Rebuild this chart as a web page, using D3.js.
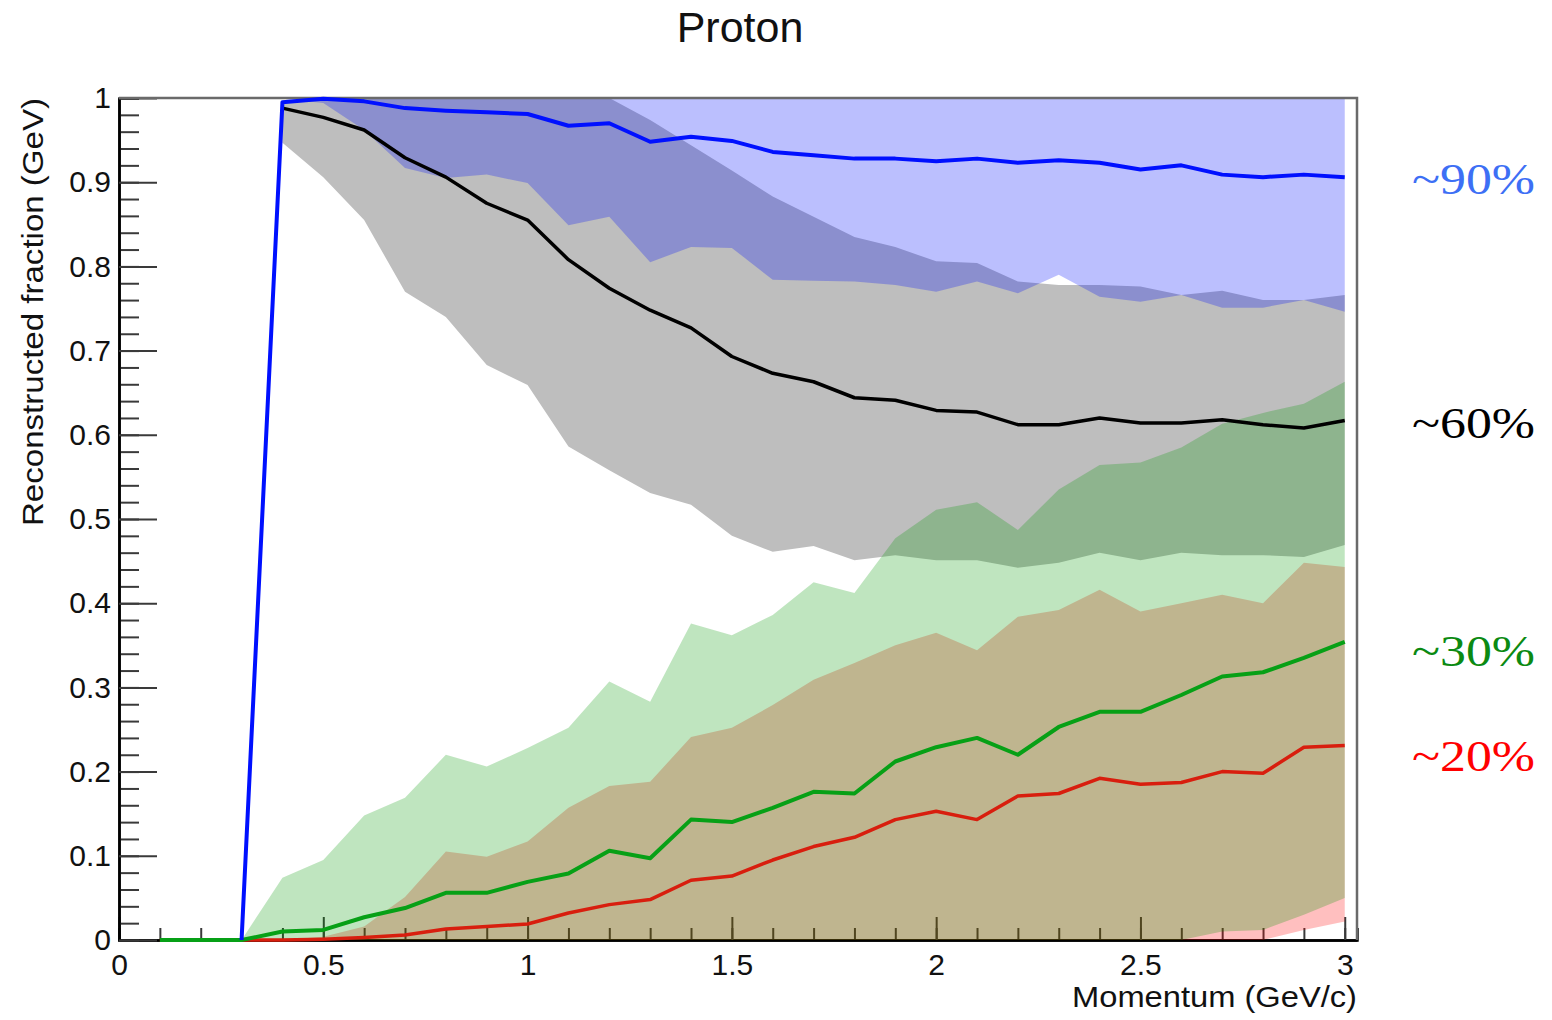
<!DOCTYPE html>
<html>
<head>
<meta charset="utf-8">
<script src="https://cdn.jsdelivr.net/npm/d3@7/dist/d3.min.js"></script>
<style>
  body { margin: 0; background: #fff; }
  svg { display: block; }
  .tick text { font-family: "Liberation Sans", Arial, sans-serif; fill: #111; }
</style>
</head>
<body>
<svg id="chart"></svg>
<script>
// momentum bins (GeV/c)
const momentum = [0.1, 0.2, 0.3, 0.4, 0.5, 0.6, 0.7, 0.8, 0.9, 1.0,
  1.1, 1.2, 1.3, 1.4, 1.5, 1.6, 1.7, 1.8, 1.9, 2.0,
  2.1, 2.2, 2.3, 2.4, 2.5, 2.6, 2.7, 2.8, 2.9, 3.0];

// mean reconstructed fraction per curve
const blueMean = [null, null, 0, 0.995, 0.999, 0.996, 0.988, 0.985, 0.983, 0.981,
  0.967, 0.970, 0.948, 0.954, 0.949, 0.936, 0.932, 0.928, 0.928, 0.925,
  0.928, 0.923, 0.926, 0.923, 0.915, 0.920, 0.909, 0.906, 0.909, 0.906];
const blackMean = [null, null, null, 0.988, 0.977, 0.962, 0.929, 0.906, 0.875, 0.855,
  0.808, 0.774, 0.748, 0.727, 0.693, 0.673, 0.663, 0.644, 0.641, 0.629,
  0.627, 0.612, 0.612, 0.620, 0.614, 0.614, 0.618, 0.612, 0.608, 0.617];
const greenMean = [0, 0, 0, 0.010, 0.012, 0.027, 0.038, 0.056, 0.056, 0.069,
  0.079, 0.106, 0.097, 0.143, 0.140, 0.157, 0.176, 0.174, 0.212, 0.229,
  0.240, 0.220, 0.253, 0.271, 0.271, 0.291, 0.313, 0.318, 0.335, 0.354];
const redMean = [0, 0, 0, 0, 0.001, 0.003, 0.006, 0.013, 0.016, 0.019,
  0.032, 0.042, 0.048, 0.071, 0.076, 0.095, 0.111, 0.122, 0.143, 0.153,
  0.143, 0.171, 0.174, 0.192, 0.185, 0.187, 0.200, 0.198, 0.229, 0.231];

// spread bands (low / high)
const blueLo = [null, null, null, 0.999, 0.994, 0.962, 0.917, 0.905, 0.909, 0.899,
  0.849, 0.859, 0.805, 0.823, 0.822, 0.784, 0.783, 0.782, 0.778, 0.770,
  0.782, 0.768, 0.790, 0.764, 0.758, 0.766, 0.751, 0.751, 0.760, 0.746];
const blueHi = [null, null, null, 1, 1, 1, 1, 1, 1, 1,
  1, 1, 1, 1, 1, 1, 1, 1, 1, 1,
  1, 1, 1, 1, 1, 1, 1, 1, 1, 1];
const grayLo = [null, null, null, 0.947, 0.906, 0.855, 0.770, 0.740, 0.683, 0.659,
  0.586, 0.558, 0.531, 0.517, 0.480, 0.461, 0.468, 0.451, 0.457, 0.451,
  0.451, 0.442, 0.448, 0.460, 0.451, 0.460, 0.457, 0.457, 0.455, 0.469];
const grayHi = [null, null, null, 0.995, 1, 1, 1, 1, 1, 1,
  1, 1, 0.974, 0.944, 0.914, 0.883, 0.859, 0.835, 0.823, 0.806,
  0.804, 0.782, 0.778, 0.778, 0.776, 0.766, 0.771, 0.760, 0.760, 0.766];
const greenLo = [null, null, 0, 0, 0, 0, 0, 0, 0, 0,
  0, 0, 0, 0, 0, 0, 0, 0, 0, 0,
  0, 0, 0, 0, 0, 0, 0.010, 0.012, 0.030, 0.050];
const greenHi = [null, null, 0, 0.074, 0.095, 0.148, 0.169, 0.220, 0.206, 0.228,
  0.252, 0.307, 0.283, 0.376, 0.362, 0.386, 0.425, 0.412, 0.477, 0.511,
  0.520, 0.487, 0.535, 0.564, 0.567, 0.585, 0.613, 0.626, 0.637, 0.663];
const redLo = [null, null, 0, 0, 0, 0, 0, 0, 0, 0,
  0, 0, 0, 0, 0, 0, 0, 0, 0, 0,
  0, 0, 0, 0, 0, 0, 0, 0, 0.012, 0.022];
const redHi = [null, null, 0, 0, 0.004, 0.016, 0.051, 0.105, 0.099, 0.117,
  0.157, 0.183, 0.188, 0.241, 0.252, 0.279, 0.309, 0.329, 0.350, 0.365,
  0.344, 0.384, 0.392, 0.416, 0.390, 0.400, 0.410, 0.400, 0.448, 0.443];

// axis ticks and labels
const xTickValues = [0, 0.5, 1, 1.5, 2, 2.5, 3];
const yTickValues = [0, 0.1, 0.2, 0.3, 0.4, 0.5, 0.6, 0.7, 0.8, 0.9, 1];
const percentLabels = ['~90%', '~60%', '~30%', '~20%'];
const percentLevels = [0.905, 0.615, 0.345, 0.22];

const width = 1552;
const height = 1020;
const margin = { top: 98, right: 195, bottom: 80, left: 119 };
const plotW = width - margin.left - margin.right;
const plotH = height - margin.top - margin.bottom;

const svg = d3.select('#chart')
  .attr('width', width)
  .attr('height', height);

svg.append('rect')
  .attr('width', width)
  .attr('height', height)
  .attr('fill', '#fff');

const xScale = d3.scaleLinear().domain([0, 3.03]).range([0, plotW]);
const yScale = d3.scaleLinear().domain([0, 1]).range([plotH, 0]);

const g = svg.append('g')
  .attr('transform', `translate(${margin.left}, ${margin.top})`);

g.append('clipPath').attr('id', 'plot-clip')
  .append('rect')
  .attr('width', plotW)
  .attr('height', plotH);

// AXES FIRST, the fills sit on top of the ticks like in the original
const tickColor = '#3a3a3a';
const styleAxis = (sel) => {
  sel.selectAll('.tick line').attr('stroke', tickColor).attr('stroke-width', 2);
  sel.select('.domain').attr('stroke', '#000').attr('stroke-width', 2.5);
};

g.append('g')
  .attr('transform', `translate(0, ${plotH})`)
  .call(d3.axisBottom(xScale).tickValues(d3.range(0, 3.001, 0.1)).tickSize(-12).tickFormat(''))
  .call(styleAxis);

g.append('g')
  .attr('class', 'x-axis')
  .attr('transform', `translate(0, ${plotH})`)
  .call(d3.axisBottom(xScale).tickValues(xTickValues).tickSizeInner(-23).tickSizeOuter(0)
    .tickPadding(14).tickFormat(d => String(d)))
  .call(styleAxis)
  .selectAll('text')
  .attr('font-size', 30);

g.append('g')
  .call(d3.axisLeft(yScale).tickValues(d3.range(0, 1.0001, 0.02)).tickSize(-20).tickFormat(''))
  .call(styleAxis);

g.append('g')
  .attr('class', 'y-axis')
  .call(d3.axisLeft(yScale).tickValues(yTickValues).tickSizeInner(-38).tickSizeOuter(0)
    .tickPadding(8).tickFormat(d => String(d)))
  .call(styleAxis)
  .selectAll('text')
  .attr('font-size', 30);

// BANDS
const bandArea = (lo, hi) => d3.area()
  .defined((d, i) => lo[i] !== null && hi[i] !== null)
  .x(d => xScale(d))
  .y0((d, i) => yScale(lo[i]))
  .y1((d, i) => yScale(hi[i]));

const bands = [
  { lo: grayLo, hi: grayHi, fill: '#bebebe' },
  { lo: redLo, hi: redHi, fill: 'rgba(255, 0, 0, 0.25)' },
  { lo: greenLo, hi: greenHi, fill: 'rgba(0, 150, 0, 0.25)' },
  { lo: blueLo, hi: blueHi, fill: 'rgba(0, 15, 250, 0.265)' },
];

const bandLayer = g.append('g').attr('clip-path', 'url(#plot-clip)');
bands.forEach(b => {
  bandLayer.append('path')
    .datum(momentum)
    .attr('d', bandArea(b.lo, b.hi))
    .attr('fill', b.fill);
});

// FRAME top / right
g.append('path')
  .attr('d', `M0,0H${plotW}V${plotH}`)
  .attr('fill', 'none')
  .attr('stroke', '#6a6a6a')
  .attr('stroke-width', 2.5);

// MEAN LINES
const meanLine = values => d3.line()
  .defined((d, i) => values[i] !== null)
  .x(d => xScale(d))
  .y((d, i) => yScale(values[i]));

const lines = [
  { values: redMean, color: '#d81e0e', w: 3.5 },
  { values: greenMean, color: '#07a016', w: 4 },
  { values: blackMean, color: '#000', w: 3.5 },
  { values: blueMean, color: '#0010ff', w: 4 },
];

lines.forEach(l => {
  g.append('path')
    .datum(momentum)
    .attr('d', meanLine(l.values))
    .attr('fill', 'none')
    .attr('stroke', l.color)
    .attr('stroke-width', l.w)
    .attr('stroke-linejoin', 'round');
});

// TITLES
svg.append('text')
  .attr('x', 740)
  .attr('y', 42)
  .attr('text-anchor', 'middle')
  .attr('font-family', '"Liberation Sans", Arial, sans-serif')
  .attr('font-size', 43)
  .attr('fill', '#111')
  .text('Proton');

svg.append('text')
  .attr('x', margin.left + plotW)
  .attr('y', 1007)
  .attr('text-anchor', 'end')
  .attr('font-family', '"Liberation Sans", Arial, sans-serif')
  .attr('font-size', 29)
  .attr('textLength', 285)
  .attr('lengthAdjust', 'spacingAndGlyphs')
  .attr('fill', '#111')
  .text('Momentum (GeV/c)');

svg.append('text')
  .attr('transform', 'translate(43, 526) rotate(-90)')
  .attr('text-anchor', 'start')
  .attr('font-family', '"Liberation Sans", Arial, sans-serif')
  .attr('font-size', 30)
  .attr('textLength', 428)
  .attr('lengthAdjust', 'spacingAndGlyphs')
  .attr('fill', '#111')
  .text('Reconstructed fraction (GeV)');

// PERCENT LABELS at the right
const labelColors = ['#3d6ff5', '#000', '#0b8a12', '#ff0000'];
percentLabels.forEach((label, i) => {
  svg.append('text')
    .attr('x', 1412)
    .attr('y', margin.top + yScale(percentLevels[i]) + 16)
    .attr('font-family', '"Liberation Serif", "DejaVu Serif", serif')
    .attr('font-size', 44)
    .attr('textLength', 123)
    .attr('lengthAdjust', 'spacingAndGlyphs')
    .attr('fill', labelColors[i])
    .text(label);
});
</script>
</body>
</html>
